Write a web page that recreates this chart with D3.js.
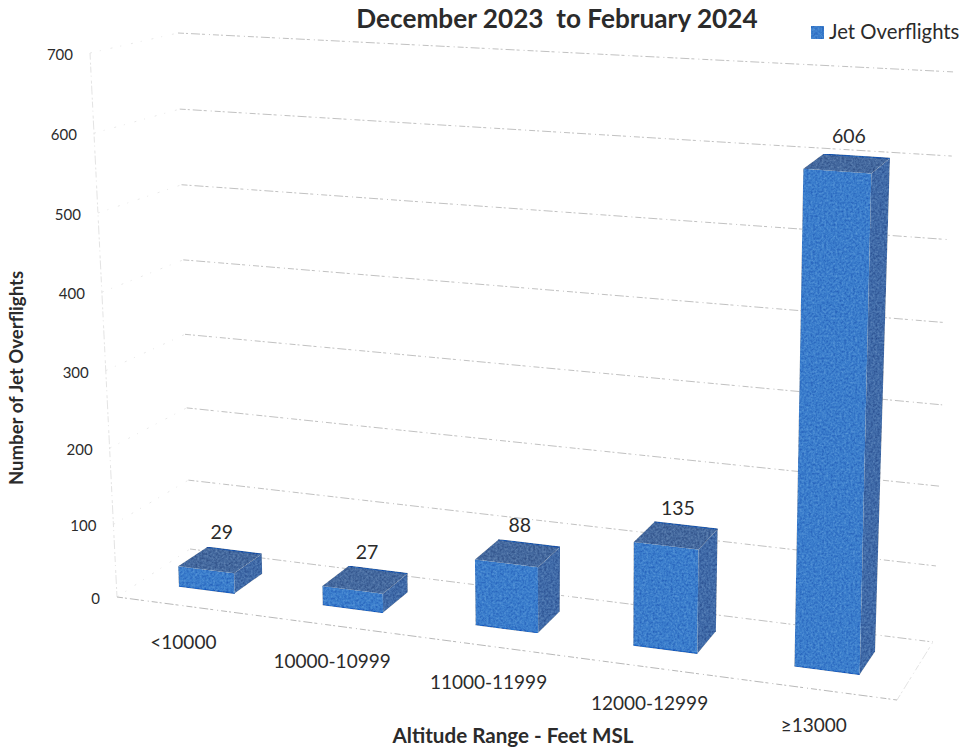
<!DOCTYPE html>
<html>
<head>
<meta charset="utf-8">
<script src="https://cdnjs.cloudflare.com/ajax/libs/d3/7.8.5/d3.min.js"></script>
<style>
  html, body { margin: 0; padding: 0; background: #fff; }
  text { font-family: Lato, "Open Sans", sans-serif; fill: #2b2b2b; }
</style>
</head>
<body>
<svg id="chart" width="963" height="752"></svg>
<script>
var categories = ["<10000", "10000-10999", "11000-11999", "12000-12999", "\u226513000"]
var flights = [29, 27, 88, 135, 606]
var valueTicks = [0, 100, 200, 300, 400, 500, 600, 700]

var TITLE = "December 2023  to February 2024"
var SERIES = "Jet Overflights"
var X_TITLE = "Altitude Range - Feet MSL"
var Y_TITLE = "Number of Jet Overflights"

// corners of the 3d box as seen on the page
var FRONT_LEFT = { low: [117, 597], high: [90, 53] }
var FRONT_RIGHT = { low: [897, 700], high: [910, 108] }
var BACK_LEFT = { low: [190, 549], high: [178, 33] }
var BACK_RIGHT = { low: [933, 642], high: [955, 72] }

var BAR_FRONT = 0.33
var BAR_BACK = 0.73

// slight perspective: the gridlines spread out going up
var heightScale = d3.scalePow().exponent(1.035).domain([0, 700]).range([0, 1])
var bandScale = d3.scaleBand().domain(categories).range([0, 1])
  .paddingInner(0.6).paddingOuter(0.3)
// bars get further apart towards the viewer's right
var widthScale = d3.scalePow().exponent(1.07).domain([0, 1]).range([0, 1])

function lerp(a, b, t) {
  return [a[0] + (b[0] - a[0]) * t, a[1] + (b[1] - a[1]) * t]
}

function project(w, depth, value) {
  var u = widthScale(w)
  var t = heightScale(value)
  var front = lerp(lerp(FRONT_LEFT.low, FRONT_LEFT.high, t), lerp(FRONT_RIGHT.low, FRONT_RIGHT.high, t), u)
  var back = lerp(lerp(BACK_LEFT.low, BACK_LEFT.high, t), lerp(BACK_RIGHT.low, BACK_RIGHT.high, t), u)
  return lerp(front, back, depth)
}

function polygon(points) {
  return points.map(function(p) { return p[0] + "," + p[1] }).join(" ")
}

var svg = d3.select("#chart")

// scanned paper grain on the bars
var grain = svg.append("defs").append("filter").attr("id", "grain")
  .attr("x", 0).attr("y", 0).attr("width", 1).attr("height", 1)
  .attr("color-interpolation-filters", "sRGB")
grain.append("feTurbulence").attr("type", "fractalNoise").attr("baseFrequency", 0.45)
  .attr("numOctaves", 3).attr("seed", 4).attr("result", "noise")
grain.append("feColorMatrix").attr("in", "noise").attr("type", "matrix")
  .attr("values", "0.6 0 0 0 0.2  0.6 0 0 0 0.2  0.6 0 0 0 0.2  0 0 0 0 1")
  .attr("result", "grey")
grain.append("feBlend").attr("in", "grey").attr("in2", "SourceGraphic").attr("mode", "soft-light").attr("result", "mixed")
grain.append("feComposite").attr("in", "mixed").attr("in2", "SourceAlpha").attr("operator", "in")

function drawWalls() {
  var walls = svg.append("g")

  walls.selectAll(".backGrid")
    .data(valueTicks)
  .enter().append("line")
    .attr("class", "backGrid")
    .attr("x1", function(d) { return project(0, 1, d)[0] })
    .attr("y1", function(d) { return project(0, 1, d)[1] })
    .attr("x2", function(d) { return project(1, 1, d)[0] })
    .attr("y2", function(d) { return project(1, 1, d)[1] })
    .attr("stroke", "#a6a6a6")
    .attr("stroke-width", 0.7)
    .attr("stroke-dasharray", "6 2 2 3 9 2 3 4 1 3")

  walls.selectAll(".sideGrid")
    .data(valueTicks)
  .enter().append("line")
    .attr("class", "sideGrid")
    .attr("x1", function(d) { return project(0, 0, d)[0] })
    .attr("y1", function(d) { return project(0, 0, d)[1] })
    .attr("x2", function(d) { return project(0, 1, d)[0] })
    .attr("y2", function(d) { return project(0, 1, d)[1] })
    .attr("stroke", "#dedede")
    .attr("stroke-width", 0.7)
    .attr("stroke-dasharray", "2 8 1 10")

  // floor front edge and the faint box edges
  var edges = [
    { a: [0, 0, 0], b: [1, 0, 0], color: "#a6a6a6" },
    { a: [1, 0, 0], b: [1, 1, 0], color: "#dcdcdc" },
    { a: [0, 0, 0], b: [0, 0, 700], color: "#dcdcdc" }
  ]
  walls.selectAll(".edge")
    .data(edges)
  .enter().append("line")
    .attr("class", "edge")
    .attr("x1", function(d) { return project(d.a[0], d.a[1], d.a[2])[0] })
    .attr("y1", function(d) { return project(d.a[0], d.a[1], d.a[2])[1] })
    .attr("x2", function(d) { return project(d.b[0], d.b[1], d.b[2])[0] })
    .attr("y2", function(d) { return project(d.b[0], d.b[1], d.b[2])[1] })
    .attr("stroke", function(d) { return d.color })
    .attr("stroke-width", 0.8)
    .attr("stroke-dasharray", "6 2 2 3 9 2 3 4 1 3")
}

function drawBars() {
  var rows = categories.map(function(c, i) {
    return { category: c, value: flights[i] }
  })

  var bars = svg.selectAll(".bar")
    .data(rows)
  .enter().append("g")
    .attr("class", "bar")
    .attr("filter", "url(#grain)")

  function left(d) { return bandScale(d.category) }
  function right(d) { return bandScale(d.category) + bandScale.bandwidth() }

  // right side
  bars.append("polygon")
    .attr("fill", "#3f6aa8")
    .attr("points", function(d) {
      return polygon([
        project(right(d), BAR_FRONT, 0), project(right(d), BAR_BACK, 0),
        project(right(d), BAR_BACK, d.value), project(right(d), BAR_FRONT, d.value)
      ])
    })

  // top
  bars.append("polygon")
    .attr("fill", "#44699f")
    .attr("points", function(d) {
      return polygon([
        project(left(d), BAR_FRONT, d.value), project(right(d), BAR_FRONT, d.value),
        project(right(d), BAR_BACK, d.value), project(left(d), BAR_BACK, d.value)
      ])
    })

  // front
  bars.append("polygon")
    .attr("fill", "#3a7dcc")
    .attr("points", function(d) {
      return polygon([
        project(left(d), BAR_FRONT, 0), project(right(d), BAR_FRONT, 0),
        project(right(d), BAR_FRONT, d.value), project(left(d), BAR_FRONT, d.value)
      ])
    })

  // the saturated edges along the bottom and the back of the top
  bars.append("line")
    .attr("stroke", "#1a62c4")
    .attr("stroke-width", 1.2)
    .attr("x1", function(d) { return project(left(d), BAR_FRONT, 0)[0] })
    .attr("y1", function(d) { return project(left(d), BAR_FRONT, 0)[1] })
    .attr("x2", function(d) { return project(right(d), BAR_FRONT, 0)[0] })
    .attr("y2", function(d) { return project(right(d), BAR_FRONT, 0)[1] })

  bars.append("line")
    .attr("stroke", "#1a58b0")
    .attr("stroke-width", 1.2)
    .attr("x1", function(d) { return project(left(d), BAR_BACK, d.value)[0] })
    .attr("y1", function(d) { return project(left(d), BAR_BACK, d.value)[1] })
    .attr("x2", function(d) { return project(right(d), BAR_BACK, d.value)[0] })
    .attr("y2", function(d) { return project(right(d), BAR_BACK, d.value)[1] })

  svg.selectAll(".barLabel")
    .data(rows)
  .enter().append("text")
    .attr("class", "barLabel")
    .attr("text-anchor", "middle")
    .attr("font-size", 19.5)
    .attr("x", function(d) { return project(left(d) + bandScale.bandwidth() / 2, 0.53, d.value)[0] + 2 })
    .attr("y", function(d) { return project(left(d) + bandScale.bandwidth() / 2, 0.53, d.value)[1] - 21 })
    .text(function(d) { return d.value })
}

function drawLabels() {
  svg.selectAll(".valueLabel")
    .data(valueTicks)
  .enter().append("text")
    .attr("class", "valueLabel")
    .attr("text-anchor", "end")
    .attr("font-size", 15)
    .attr("x", function(d) { return project(0, 0, d)[0] - 17 })
    .attr("y", function(d) { return project(0, 0, d)[1] + 7 })
    .text(function(d) { return d })

  svg.selectAll(".categoryLabel")
    .data(categories)
  .enter().append("text")
    .attr("class", "categoryLabel")
    .attr("text-anchor", "middle")
    .attr("font-size", 19)
    .attr("x", function(d) { return project(bandScale(d) + bandScale.bandwidth() / 2, 0, 0)[0] })
    .attr("y", function(d) { return project(bandScale(d) + bandScale.bandwidth() / 2, 0, 0)[1] + 43 })
    .text(function(d) { return d })

  svg.append("text")
    .attr("x", 557).attr("y", 28)
    .attr("text-anchor", "middle")
    .attr("font-size", 26.2)
    .attr("font-weight", 700)
    .style("white-space", "pre")
    .text(TITLE)

  svg.append("text")
    .attr("x", 513).attr("y", 743)
    .attr("text-anchor", "middle")
    .attr("font-size", 20.6)
    .attr("font-weight", 700)
    .text(X_TITLE)

  svg.append("text")
    .attr("transform", "translate(23,378) rotate(-90)")
    .attr("text-anchor", "middle")
    .attr("font-size", 18.6)
    .attr("font-weight", 700)
    .text(Y_TITLE)

  svg.append("rect")
    .attr("x", 811).attr("y", 26)
    .attr("width", 13).attr("height", 13)
    .attr("fill", "#3a7dcc")
    .attr("filter", "url(#grain)")

  svg.append("text")
    .attr("x", 829).attr("y", 39)
    .attr("font-size", 20.3)
    .text(SERIES)
}

drawWalls()
drawBars()
drawLabels()
</script>
</body>
</html>
